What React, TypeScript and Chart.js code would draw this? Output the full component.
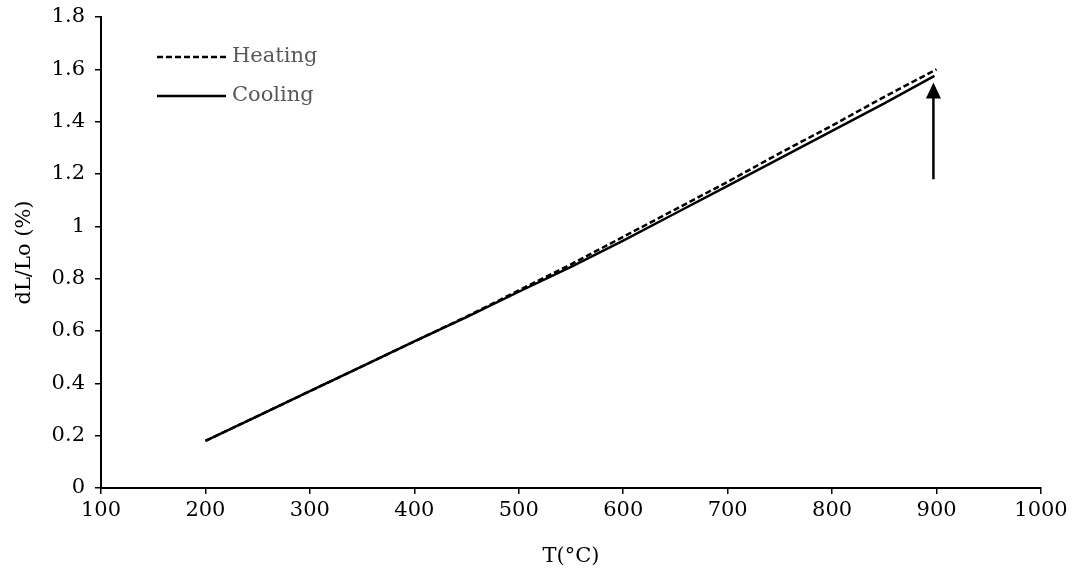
import React, { useEffect, useRef } from "react";
import { Chart, registerables } from "chart.js";

Chart.register(...registerables);

const heatingT = [200, 250, 300, 350, 400, 450, 500, 550, 600, 650, 700, 750, 800, 850, 900];
const heatingDL = [0.18, 0.275, 0.37, 0.465, 0.56, 0.655, 0.755, 0.855, 0.96, 1.065, 1.17, 1.28, 1.385, 1.495, 1.6];
const coolingT = [200, 250, 300, 350, 400, 450, 500, 550, 600, 650, 700, 750, 800, 850, 898];
const coolingDL = [0.18, 0.275, 0.37, 0.465, 0.56, 0.653, 0.75, 0.845, 0.945, 1.05, 1.155, 1.26, 1.365, 1.47, 1.575];
const arrowT = [897, 897];
const arrowDL = [1.18, 1.55];
const legendLabels = ["Heating", "Cooling"];

const FONT = "'DejaVu Serif', serif";
const FS = 21;

const arrowPlugin = {
  id: "arrowPlugin",
  afterDatasetsDraw(chart: any) {
    const { ctx, scales } = chart;
    const x = scales.x.getPixelForValue(arrowT[0]);
    const y0 = scales.y.getPixelForValue(arrowDL[0]);
    const y1 = scales.y.getPixelForValue(arrowDL[1]);
    ctx.save();
    ctx.strokeStyle = "#000";
    ctx.fillStyle = "#000";
    ctx.lineWidth = 2.5;
    ctx.beginPath();
    ctx.moveTo(x, y0);
    ctx.lineTo(x, y1 + 10);
    ctx.stroke();
    ctx.beginPath();
    ctx.moveTo(x, y1);
    ctx.lineTo(x - 7.5, y1 + 16);
    ctx.lineTo(x + 7.5, y1 + 16);
    ctx.closePath();
    ctx.fill();
    ctx.restore();
  },
};

const legendPlugin = {
  id: "legendPlugin",
  afterDraw(chart: any) {
    const { ctx } = chart;
    ctx.save();
    const rows = [57, 96];
    legendLabels.forEach((label, i) => {
      ctx.strokeStyle = "#000";
      ctx.lineWidth = 2.5;
      ctx.setLineDash(i === 0 ? [6, 3] : []);
      ctx.beginPath();
      ctx.moveTo(157, rows[i]);
      ctx.lineTo(226, rows[i]);
      ctx.stroke();
      ctx.setLineDash([]);
      ctx.fillStyle = "#595959";
      ctx.font = FS + "px " + FONT;
      ctx.textBaseline = "middle";
      ctx.textAlign = "left";
      ctx.fillText(label, 232, rows[i]);
    });
    ctx.restore();
  },
};

export default function App() {
  const ref = useRef<HTMLCanvasElement>(null);
  useEffect(() => {
    if (!ref.current) return;
    const chart = new Chart(ref.current, {
      type: "line",
      data: {
        datasets: [
          {
            label: legendLabels[0],
            data: heatingT.map((t, i) => ({ x: t, y: heatingDL[i] })),
            borderColor: "#000",
            borderWidth: 2.5,
            borderDash: [6, 3],
            pointRadius: 0,
            tension: 0,
            fill: false,
          },
          {
            label: legendLabels[1],
            data: coolingT.map((t, i) => ({ x: t, y: coolingDL[i] })),
            borderColor: "#000",
            borderWidth: 2.5,
            pointRadius: 0,
            tension: 0,
            fill: false,
          },
        ],
      },
      options: {
        animation: false,
        responsive: false,
        maintainAspectRatio: false,
        layout: { padding: { top: 17, right: 38, left: 8, bottom: 0 } },
        plugins: { legend: { display: false }, tooltip: { enabled: false } },
        scales: {
          x: {
            type: "linear",
            min: 100,
            max: 1000,
            ticks: { stepSize: 100, color: "#000", font: { family: FONT, size: FS }, padding: 4,
              callback: (v: any) => String(v) },
            grid: { display: true, drawOnChartArea: false, drawTicks: true, tickLength: 6, color: "#000", lineWidth: 1.5 },
            border: { display: true, color: "#000", width: 2 },
            title: { display: true, text: "T(°C)", color: "#000", font: { family: FONT, size: FS }, padding: { top: 8 } },
            afterFit(scale: any) { scale.height = 85; scale.paddingLeft = 0; scale.paddingRight = 0; },
          },
          y: {
            type: "linear",
            min: 0,
            max: 1.8,
            ticks: { stepSize: 0.2, color: "#000", font: { family: FONT, size: FS }, padding: 10,
              callback: (v: any) => String(Math.round(Number(v) * 10) / 10) },
            grid: { display: true, drawOnChartArea: false, drawTicks: true, tickLength: 6, color: "#000", lineWidth: 1.5 },
            border: { display: true, color: "#000", width: 2 },
            title: { display: true, text: "dL/Lo (%)", color: "#000", font: { family: FONT, size: FS }, padding: { bottom: 2 } },
            afterFit(scale: any) { scale.width = 93; scale.paddingTop = 0; scale.paddingBottom = 0; },
          },
        },
      },
      plugins: [arrowPlugin, legendPlugin],
    });
    return () => chart.destroy();
  }, []);
  return (
    <div style={{ position: "fixed", left: 0, top: 0, width: 1079, height: 573, background: "#fff" }}>
      <canvas ref={ref} width={1079} height={573} style={{ width: 1079, height: 573 }} />
    </div>
  );
}
